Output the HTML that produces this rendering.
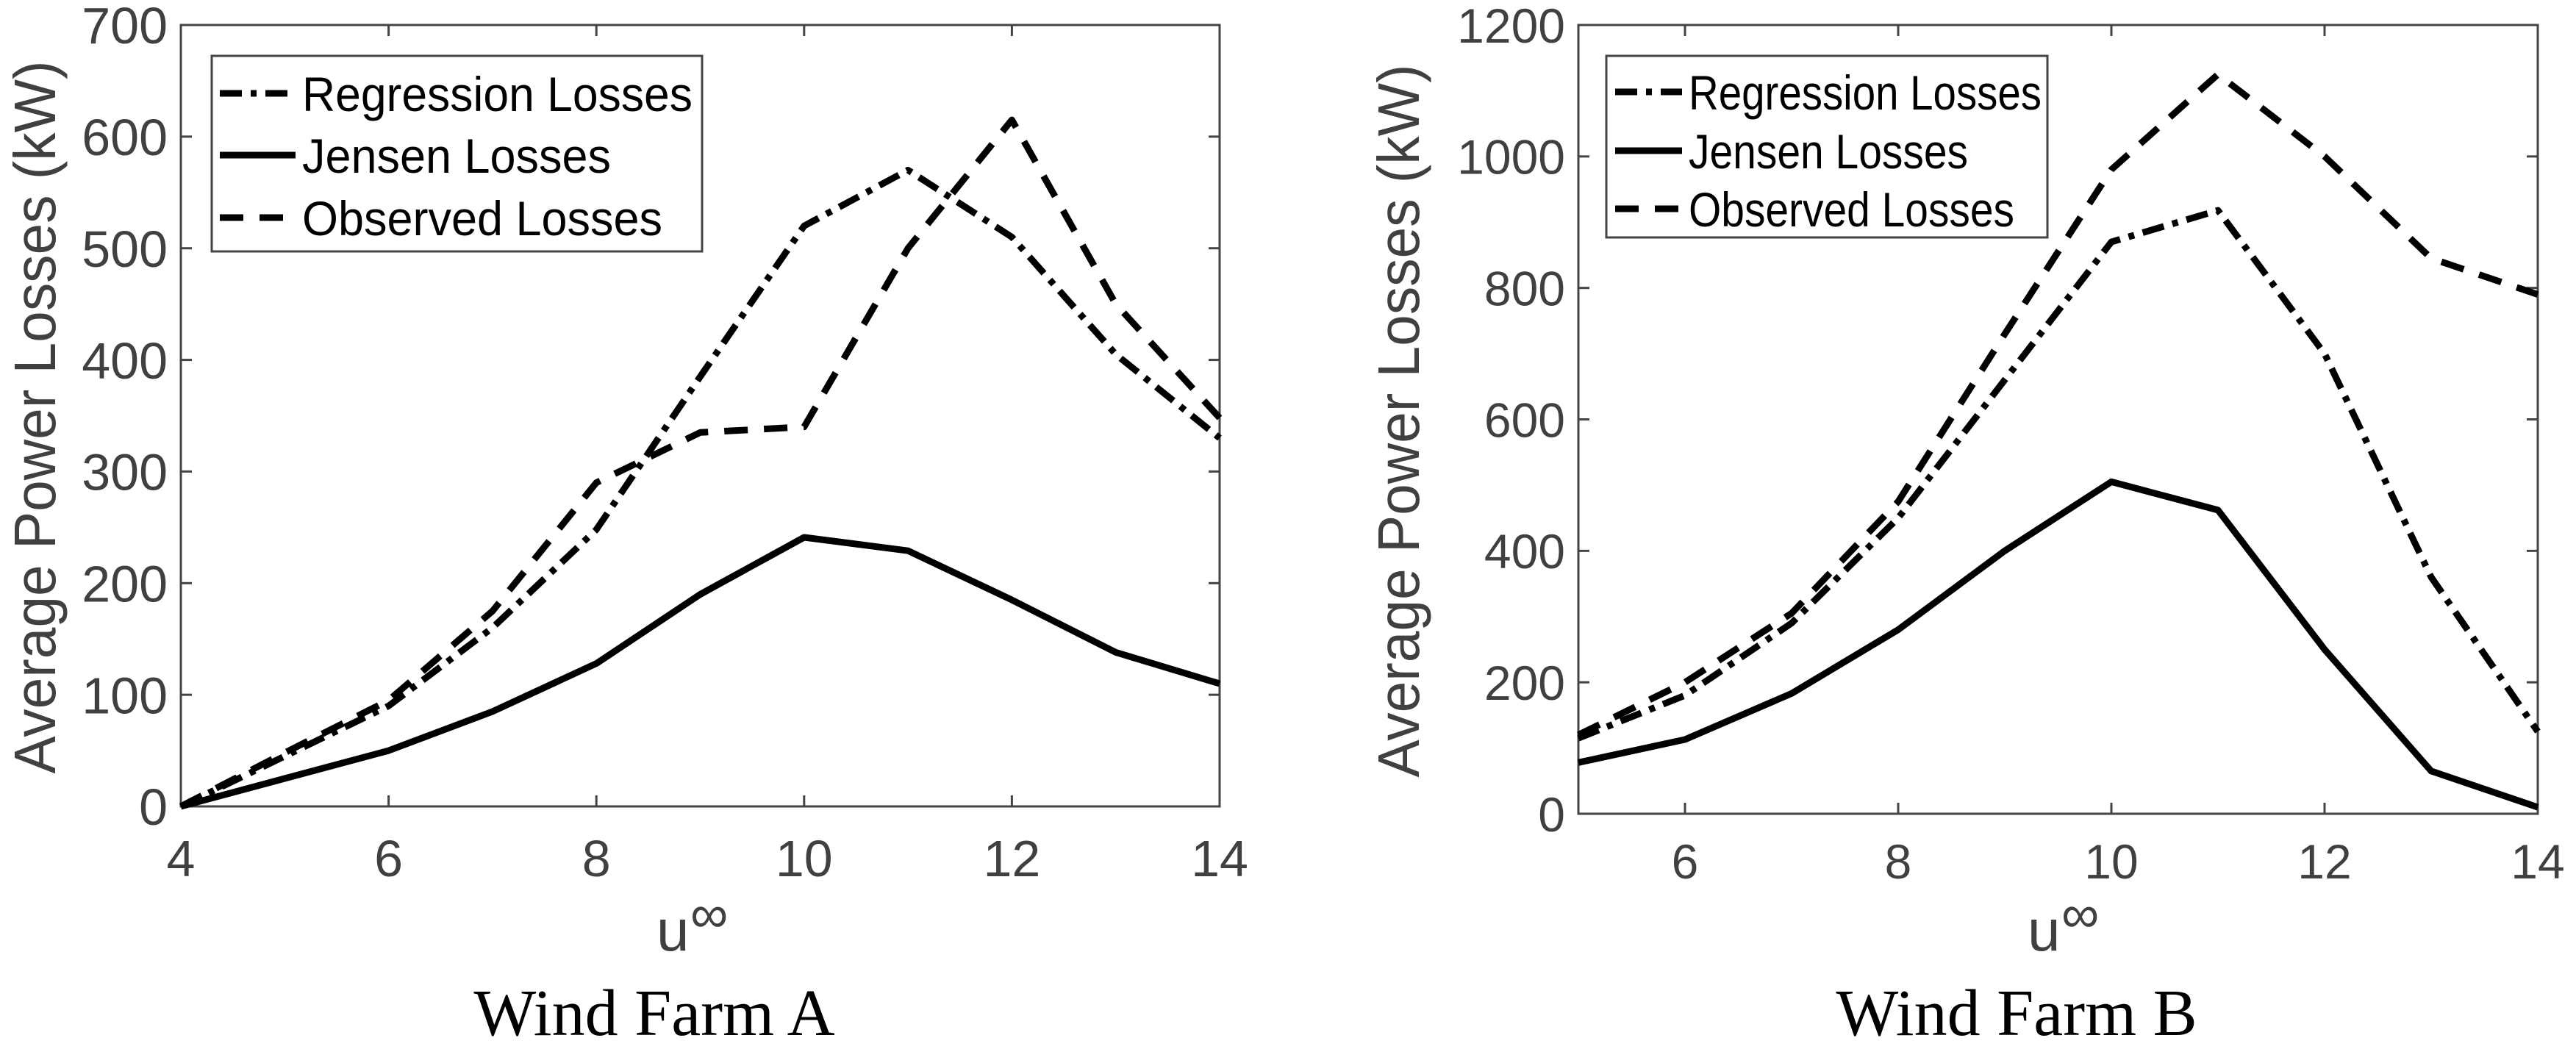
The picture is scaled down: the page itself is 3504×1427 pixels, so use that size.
<!DOCTYPE html>
<html><head><meta charset="utf-8"><style>
html,body{margin:0;padding:0;background:#fff;width:3504px;height:1427px;overflow:hidden}
svg{display:block}
text{font-family:"Liberation Sans",sans-serif}
</style></head><body>
<svg id="fig" width="3504" height="1427" viewBox="0 0 3504 1427" xmlns="http://www.w3.org/2000/svg"></svg>
<script>
const xA = [4,5,6,7,8,9,10,11,12,13,14];
const regA = [0,45,90,160,248,385,520,570,510,405,330];
const jenA = [0,25,50,85,128,190,241,229,185,138,110];
const obsA = [0,48,95,175,290,335,340,500,615,450,348];
const xTicksA = [4,6,8,10,12,14];
const yTicksA = [0,100,200,300,400,500,600,700];

const xB = [5,6,7,8,9,10,11,12,13,14];
const regB = [115,180,290,450,660,870,918,700,360,125];
const jenB = [78,113,183,280,400,505,462,250,65,10];
const obsB = [120,200,305,475,730,980,1125,1000,845,790];
const xTicksB = [6,8,10,12,14];
const yTicksB = [0,200,400,600,800,1000,1200];

const NS = "http://www.w3.org/2000/svg";
const fig = document.getElementById('fig');
function mk(tag, attrs, parent){const e=document.createElementNS(NS,tag);for(const k in attrs)e.setAttribute(k,attrs[k]);(parent||fig).appendChild(e);return e;}

function chart(cfg){
  const g = mk('g',{});
  
  
  const L=cfg.L,R=cfg.R,T=cfg.T,B=cfg.B;
  const sx=v=>L+(v-cfg.xmin)/(cfg.xmax-cfg.xmin)*(R-L);
  const sy=v=>B-(v-cfg.ymin)/(cfg.ymax-cfg.ymin)*(B-T);
  const ax = mk('rect',{x:L,y:T,width:R-L,height:B-T,fill:'none',stroke:'#444',"stroke-width":3},g);
  
  
  cfg.xt.forEach(v=>{
    const x=sx(v);
    const t1=mk('line',{x1:x,x2:x,y1:B,y2:B-15,stroke:'#444',"stroke-width":3},g);
    
    
    mk('line',{x1:x,x2:x,y1:T,y2:T+15,stroke:'#444',"stroke-width":3},g);
    const tl=mk('text',{x:x,y:B+cfg.xly,"font-size":cfg.fs,fill:'#404040',"text-anchor":'middle'},g);
    tl.textContent=v;
    
    
  });
  cfg.yt.forEach(v=>{
    const y=sy(v);
    const t1=mk('line',{x1:L,x2:L+15,y1:y,y2:y,stroke:'#444',"stroke-width":3},g);
    
    
    mk('line',{x1:R,x2:R-15,y1:y,y2:y,stroke:'#444',"stroke-width":3},g);
    const tl=mk('text',{x:L-18,y:y+cfg.fs*0.36,"font-size":cfg.fs,fill:'#404040',"text-anchor":'end'},g);
    tl.textContent=v;
    
    
  });
  const yl=mk('text',{x:0,y:0,"font-size":80,fill:'#404040',"text-anchor":'middle',transform:`translate(${cfg.ylx},${(T+B)/2+2}) rotate(-90)`,textLength:970,lengthAdjust:'spacingAndGlyphs'},g);
  yl.textContent='Average Power Losses (kW)';
  
  
  const xl=mk('text',{x:cfg.ux,y:1293,"font-size":80,fill:'#404040',"text-anchor":'start'},g);
  xl.textContent='u';
  
  
  const xs=mk('text',{x:cfg.ux+46,y:1268,"font-size":72,fill:'#404040',"text-anchor":'start'},g);
  xs.textContent='∞';
  
  
  const ti=mk('text',{x:cfg.tx,y:1408,"font-size":90,fill:'#000',"text-anchor":'middle',style:'font-family:"Liberation Serif",serif'},g);
  ti.textContent=cfg.title;
  
  
  const styles={reg:'30 12 8 12',jen:'none',obs:'32 22'};
  const series=[['reg',cfg.reg,'regression-losses-line'],['jen',cfg.jen,'jensen-losses-line'],['obs',cfg.obs,'observed-losses-line']];
  series.forEach(([k,vals,nm])=>{
    const d=vals.map((v,i)=>(i?'L':'M')+sx(cfg.x[i]).toFixed(1)+','+sy(v).toFixed(1)).join(' ');
    const p=mk('path',{d:d,fill:'none',stroke:'#000',"stroke-width":9,"stroke-linejoin":'round'},g);
    if(styles[k]!=='none')p.setAttribute('stroke-dasharray',styles[k]);
    
    
  });
  const lg=cfg.leg;
  const lgg=mk('g',{},g);
  
  
  mk('rect',{x:lg.x,y:lg.y,width:lg.w,height:lg.h,fill:'#fff',stroke:'#444',"stroke-width":3},lgg);
  const labels=['Regression Losses','Jensen Losses','Observed Losses'];
  const keys=['reg','jen','obs'];
  labels.forEach((lab,i)=>{
    const y=lg.rows[i];
    const ln=mk('line',{x1:lg.lx1,x2:lg.lx2,y1:y,y2:y,stroke:'#000',"stroke-width":9},lgg);
    if(styles[keys[i]]!=='none')ln.setAttribute('stroke-dasharray',styles[keys[i]]);
    const t=mk('text',{x:lg.tx,y:y+24,"font-size":66,fill:'#000',textLength:lg.tw[i],lengthAdjust:'spacingAndGlyphs'},lgg);
    t.textContent=lab;
    
    
  });
}

chart({name:'chart-wind-farm-a',L:246,R:1659,T:34,B:1097,xmin:4,xmax:14,ymin:0,ymax:700,
  x:xA,reg:regA,jen:jenA,obs:obsA,xt:xTicksA,yt:yTicksA,fs:70,xly:95,ylx:75,title:'Wind Farm A',tx:890,ux:893,
  leg:{x:288,y:76,w:667,h:266,rows:[127,211,296],lx1:299,lx2:402,tx:411,tw:[531,420,490]}});
chart({name:'chart-wind-farm-b',L:2147,R:3452,T:34,B:1107,xmin:5,xmax:14,ymin:0,ymax:1200,
  x:xB,reg:regB,jen:jenB,obs:obsB,xt:xTicksB,yt:yTicksB,fs:66,xly:88,ylx:1930,title:'Wind Farm B',tx:2743,ux:2758,
  leg:{x:2185,y:76,w:600,h:247,rows:[125,205,284],lx1:2197,lx2:2288,tx:2297,tw:[480,380,443]}});
</script>
</body></html>
